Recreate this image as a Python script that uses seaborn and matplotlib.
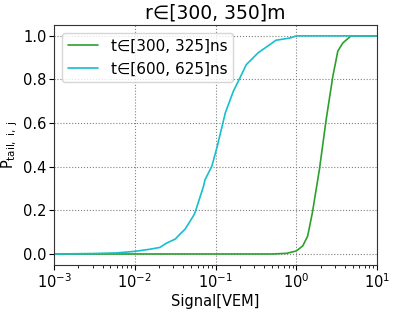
import numpy as np
import pandas as pd
import matplotlib
matplotlib.use("Agg")
import matplotlib.pyplot as plt
import seaborn as sns

# Data
sig_early = [0.001, 0.1, 0.5, 0.76, 1.0, 1.2, 1.38, 1.58, 1.93, 2.34, 2.83, 3.26, 3.75, 4.75, 10.0]
p_early = [0.0, 0.0, 0.0, 0.003, 0.014, 0.037, 0.082, 0.19, 0.388, 0.617, 0.815, 0.93, 0.967, 1.0, 1.0]

sig_late = [0.001, 0.003, 0.006, 0.01, 0.0155, 0.0204, 0.0248, 0.0316, 0.036, 0.042, 0.053, 0.0557,
            0.071, 0.074, 0.090, 0.105, 0.132, 0.166, 0.2, 0.24, 0.335, 0.47, 0.56, 0.83, 1.0, 10.0]
p_late = [0.0, 0.002, 0.005, 0.012, 0.022, 0.03, 0.05, 0.068, 0.09, 0.114, 0.174, 0.19,
          0.311, 0.34, 0.403, 0.494, 0.647, 0.746, 0.807, 0.868, 0.922, 0.96, 0.98, 0.99, 1.0, 1.0]

labels = ["t\u2208[300, 325]ns", "t\u2208[600, 625]ns"]
title = "r\u2208[300, 350]m"

df = pd.concat([
    pd.DataFrame({"Signal": sig_early, "P": p_early, "series": labels[0]}),
    pd.DataFrame({"Signal": sig_late, "P": p_late, "series": labels[1]}),
])

sns.set_style("ticks")
plt.rcParams["font.family"] = ["DejaVu Sans"]
plt.rcParams["text.color"] = "black"
plt.rcParams["axes.labelcolor"] = "black"
plt.rcParams["xtick.color"] = "black"
plt.rcParams["ytick.color"] = "black"

fig, ax = plt.subplots(figsize=(3.97, 3.12), dpi=100)
sns.lineplot(data=df, x="Signal", y="P", hue="series", hue_order=labels,
             palette=["#2ca02c", "#17becf"], ax=ax, linewidth=1.2, sort=False)
ax.set_xscale("log")
ax.set_xlim(1e-3, 1e1)
ax.set_ylim(-0.05, 1.05)
ax.set_yticks([0.0, 0.2, 0.4, 0.6, 0.8, 1.0])
ax.grid(True, which="major", linestyle=":", color="gray", linewidth=0.8)
ax.set_xlabel("Signal[VEM]", fontsize=10.5, labelpad=2)
ax.set_ylabel(r"P$_{\mathrm{tail,\ i,\ j}}$", fontsize=10.5, labelpad=2)
ax.set_title(title, fontsize=13.5, pad=5)
ax.tick_params(which="major", labelsize=10.5, length=3.5, width=0.8, pad=2)
ax.tick_params(which="minor", length=2, width=0.6)
for s in ax.spines.values():
    s.set_color("#333333")
ax.legend(title=None, loc="upper left", fontsize=11, frameon=True)
fig.subplots_adjust(left=0.136, right=0.95, top=0.92, bottom=0.151)
fig.savefig("out.png", dpi=100)
